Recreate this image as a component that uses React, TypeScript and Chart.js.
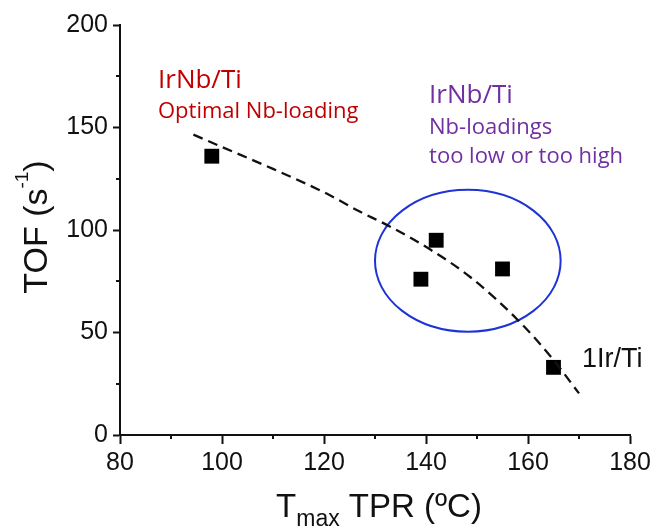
import React, { useEffect, useRef } from "react";
import { Chart, registerables } from "chart.js";

Chart.register(...registerables);

// ---- data ----
const pointX = [98, 139, 142, 155, 165];
const pointY = [136, 76, 95, 81, 33];
const fitX = [94.4, 100, 110, 120, 127, 133, 141, 148.6, 158, 165, 170];
const fitY = [146.5, 140.5, 129.8, 118.4, 109, 101.6, 90.2, 77.2, 56.1, 36.6, 20.3];
const xTicks = [80, 100, 120, 140, 160, 180];
const yTicks = [0, 50, 100, 150, 200];
const xMinor = [90, 110, 130, 150, 170];
const yMinor = [25, 75, 125, 175];
const ellipseCenter = [148.2, 85];
const ellipseRadii = [18.2, 34.6];

const redLines = ["IrNb/Ti", "Optimal Nb-loading"];
const purpleLines = ["IrNb/Ti", "Nb-loadings", "too low or too high"];
const pureLabel = "1Ir/Ti";

const ARIAL = "'Liberation Sans', Arial, sans-serif";
const CALIBRI = "'Open Sans', 'Noto Sans', sans-serif";

type Seg = { text: string; size: number; dy: number };

function drawRich(ctx: CanvasRenderingContext2D, segs: Seg[], x: number, y: number) {
  let total = 0;
  const widths = segs.map((s) => {
    ctx.font = `${s.size}px ${ARIAL}`;
    const w = ctx.measureText(s.text).width;
    total += w;
    return w;
  });
  let cx = x - total / 2;
  ctx.textAlign = "left";
  ctx.textBaseline = "alphabetic";
  segs.forEach((s, i) => {
    ctx.font = `${s.size}px ${ARIAL}`;
    ctx.fillText(s.text, cx, y + s.dy);
    cx += widths[i];
  });
}

const decorPlugin = {
  id: "decor",
  beforeDatasetsDraw(chart: any) {
    const { ctx } = chart;
    const xs = chart.scales.x;
    const ys = chart.scales.y;
    const cx = xs.getPixelForValue(ellipseCenter[0]);
    const cy = ys.getPixelForValue(ellipseCenter[1]);
    const rx = Math.abs(xs.getPixelForValue(ellipseCenter[0] + ellipseRadii[0]) - cx);
    const ry = Math.abs(ys.getPixelForValue(ellipseCenter[1] + ellipseRadii[1]) - cy);
    ctx.save();
    ctx.beginPath();
    ctx.ellipse(cx, cy, rx, ry, 0, 0, Math.PI * 2);
    ctx.strokeStyle = "#1d33d6";
    ctx.lineWidth = 2;
    ctx.stroke();
    ctx.restore();
  },
  afterDraw(chart: any) {
    const { ctx, chartArea } = chart;
    const xs = chart.scales.x;
    const ys = chart.scales.y;
    ctx.save();
    // minor ticks
    ctx.strokeStyle = "#111";
    ctx.lineWidth = 2;
    ctx.beginPath();
    xMinor.forEach((v) => {
      const px = Math.round(xs.getPixelForValue(v));
      ctx.moveTo(px, chartArea.bottom);
      ctx.lineTo(px, chartArea.bottom + 4);
    });
    yMinor.forEach((v) => {
      const py = Math.round(ys.getPixelForValue(v));
      ctx.moveTo(chartArea.left, py);
      ctx.lineTo(chartArea.left - 4, py);
    });
    ctx.stroke();

    // annotations
    ctx.textAlign = "left";
    ctx.textBaseline = "alphabetic";
    ctx.fillStyle = "#c00000";
    ctx.font = `26px ${CALIBRI}`;
    ctx.fillText(redLines[0], xs.getPixelForValue(87.45), ys.getPixelForValue(169.3));
    ctx.font = `22px ${CALIBRI}`;
    ctx.fillText(redLines[1], xs.getPixelForValue(87.45), ys.getPixelForValue(154.6));

    ctx.fillStyle = "#7030a0";
    ctx.font = `26px ${CALIBRI}`;
    ctx.fillText(purpleLines[0], xs.getPixelForValue(140.6), ys.getPixelForValue(162.0));
    ctx.font = `22px ${CALIBRI}`;
    ctx.fillText(purpleLines[1], xs.getPixelForValue(140.6), ys.getPixelForValue(146.8));
    ctx.fillText(purpleLines[2], xs.getPixelForValue(140.6), ys.getPixelForValue(132.7));

    ctx.fillStyle = "#111";
    ctx.font = `27px ${ARIAL}`;
    ctx.fillText(pureLabel, xs.getPixelForValue(170.6), ys.getPixelForValue(33.2));

    // axis titles
    ctx.fillStyle = "#111";
    const xc = (chartArea.left + chartArea.right) / 2 + 4;
    drawRich(
      ctx,
      [
        { text: "T", size: 33, dy: 0 },
        { text: "max", size: 23, dy: 9 },
        { text: " TPR (ºC)", size: 33, dy: 0 },
      ],
      xc,
      chartArea.bottom + 82
    );
    ctx.save();
    ctx.translate(chartArea.left - 73, (chartArea.top + chartArea.bottom) / 2 - 3);
    ctx.rotate(-Math.PI / 2);
    drawRich(
      ctx,
      [
        { text: "TOF (s", size: 34, dy: 0 },
        { text: "-1", size: 19, dy: -19 },
        { text: ")", size: 34, dy: 0 },
      ],
      0,
      0
    );
    ctx.restore();
    ctx.restore();
  },
};

export default function App() {
  const ref = useRef<HTMLCanvasElement | null>(null);
  useEffect(() => {
    if (!ref.current) return;
    const chart = new Chart(ref.current, {
      type: "scatter",
      data: {
        datasets: [
          {
            type: "line",
            data: fitX.map((x, i) => ({ x, y: fitY[i] })),
            borderColor: "#111",
            borderWidth: 2.3,
            borderDash: [10, 6],
            pointRadius: 0,
            tension: 0.4,
            cubicInterpolationMode: "monotone",
            fill: false,
          } as any,
          {
            type: "scatter",
            data: pointX.map((x, i) => ({ x, y: pointY[i] })),
            pointStyle: "rect",
            pointRadius: 10.5,
            backgroundColor: "#000",
            borderColor: "#000",
            borderWidth: 0,
          } as any,
        ],
      },
      options: {
        animation: false,
        responsive: false,
        devicePixelRatio: 1,
        layout: { padding: { top: 25, right: 26, left: 0, bottom: 0 } },
        plugins: { legend: { display: false }, tooltip: { enabled: false } },
        scales: {
          x: {
            type: "linear",
            min: 80,
            max: 180,
            afterBuildTicks: (s: any) => {
              s.ticks = xTicks.map((v) => ({ value: v }));
            },
            afterFit: (s: any) => {
              s.height = 94;
            },
            border: { display: true, color: "#111", width: 2 },
            grid: { display: true, drawOnChartArea: false, drawTicks: true, tickLength: 9, tickColor: "#111", tickWidth: 2 },
            ticks: { color: "#111", font: { family: ARIAL, size: 25 }, padding: 4, maxRotation: 0 },
          },
          y: {
            type: "linear",
            min: 0,
            max: 200,
            afterBuildTicks: (s: any) => {
              s.ticks = yTicks.map((v) => ({ value: v }));
            },
            afterFit: (s: any) => {
              s.width = 120;
            },
            border: { display: true, color: "#111", width: 2 },
            grid: { display: true, drawOnChartArea: false, drawTicks: true, tickLength: 7, tickColor: "#111", tickWidth: 2 },
            ticks: { color: "#111", font: { family: ARIAL, size: 25 }, padding: 5 },
          },
        },
      },
      plugins: [decorPlugin],
    } as any);
    return () => chart.destroy();
  }, []);
  return (
    <div style={{ position: "absolute", left: 0, top: 0, width: 656, height: 529, background: "#fff" }}>
      <canvas ref={ref} width={656} height={529} />
    </div>
  );
}
